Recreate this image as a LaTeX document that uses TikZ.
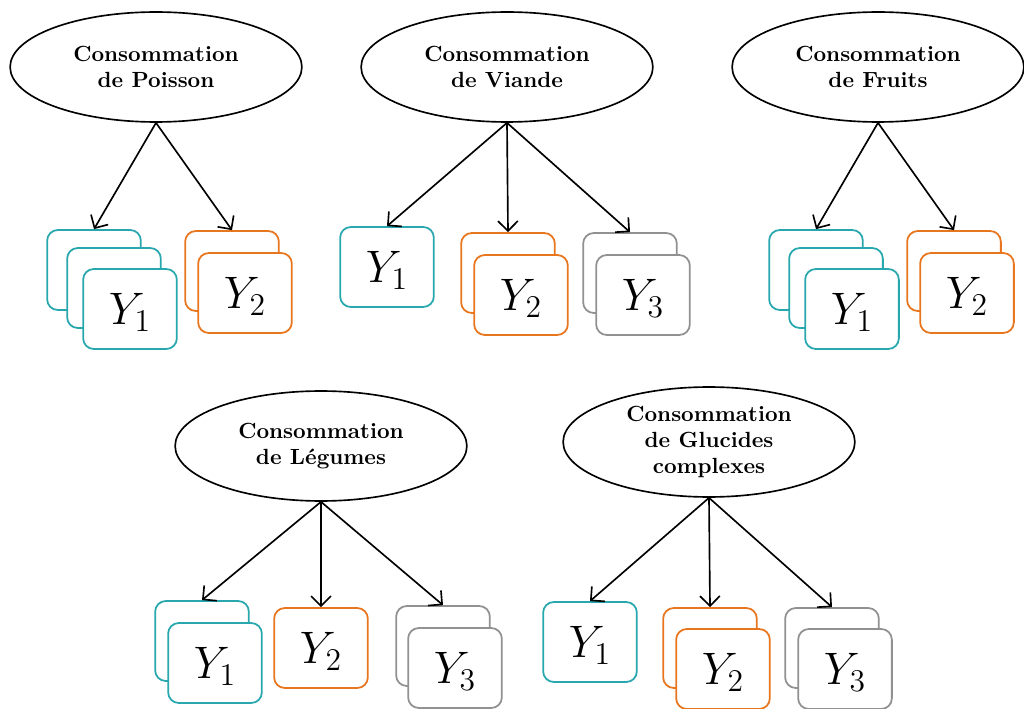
\documentclass[tikz,border=0pt]{standalone}
\usepackage{amsmath,amssymb}
\usepackage{fontspec}
\usepackage{xcolor}
\usepackage{tikz}
\usetikzlibrary{shapes.geometric,arrows.meta}

\definecolor{tealY}{RGB}{40,168,174}
\definecolor{orangeY}{RGB}{232,118,30}
\definecolor{grayY}{RGB}{145,145,145}

\begin{document}
\begin{tikzpicture}[x=0.016cm,y=-0.016cm,
  every text node part/.style={align=center},
  cons/.style={ellipse, draw=black, line width=0.75pt, minimum width=4.67cm, minimum height=1.76cm,
               inner sep=0pt, font=\bfseries},
  ybox/.style={rectangle, rounded corners=0.17cm, line width=0.8pt, fill=white,
               minimum width=1.5cm, minimum height=1.28cm, text depth=0pt,
               font=\fontsize{21}{24}\selectfont},
  tealbox/.style={ybox, draw=tealY},
  orangebox/.style={ybox, draw=orangeY},
  graybox/.style={ybox, draw=grayY},
  >={Straight Barb[length=4.5pt,width=9pt]}]
  \useasboundingbox (0,0) rectangle (1024,709);

  % Poisson
  \node[cons]      (p)   at (156,67)  {Consommation\\de Poisson};
  \node[tealbox]   (p1a) at (94,270)  {};
  \node[tealbox]   (p1b) at (114,288) {};
  \node[tealbox]   (p1)  at (130,309) {\(Y_1\)};
  \node[orangebox] (p2a) at (232,271) {};
  \node[orangebox] (p2)  at (245,293) {\(Y_2\)};

  % Viande
  \node[cons]      (v)   at (507,67)  {Consommation\\de Viande};
  \node[tealbox]   (v1)  at (387,267) {\(Y_1\)};
  \node[orangebox] (v2a) at (508,273) {};
  \node[orangebox] (v2)  at (521,295) {\(Y_2\)};
  \node[graybox]   (v3a) at (630,273) {};
  \node[graybox]   (v3)  at (643,295) {\(Y_3\)};

  % Fruits
  \node[cons]      (f)   at (878,67)  {Consommation\\de Fruits};
  \node[tealbox]   (f1a) at (816,270) {};
  \node[tealbox]   (f1b) at (836,288) {};
  \node[tealbox]   (f1)  at (852,309) {\(Y_1\)};
  \node[orangebox] (f2a) at (954,271) {};
  \node[orangebox] (f2)  at (967,293) {\(Y_2\)};

  % Legumes
  \node[cons]      (l)   at (321,446) {Consommation\\de Légumes};
  \node[tealbox]   (l1a) at (202,641) {};
  \node[tealbox]   (l1)  at (215,663) {\(Y_1\)};
  \node[orangebox] (l2)  at (321,648) {\(Y_2\)};
  \node[graybox]   (l3a) at (443,646) {};
  \node[graybox]   (l3)  at (455,668) {\(Y_3\)};

  % Glucides
  \node[cons]      (g)   at (709,442) {Consommation\\de Glucides\\complexes};
  \node[tealbox]   (g1)  at (590,642) {\(Y_1\)};
  \node[orangebox] (g2a) at (710,648) {};
  \node[orangebox] (g2)  at (723,669) {\(Y_2\)};
  \node[graybox]   (g3a) at (832,648) {};
  \node[graybox]   (g3)  at (845,669) {\(Y_3\)};

  \path[->, line width=0.75pt]
  (p.south) edge (p1a.north)
  (p.south) edge (p2a.north)
  (v.south) edge (v1.north)
  (v.south) edge (v2a.north)
  (v.south) edge (v3a.north)
  (f.south) edge (f1a.north)
  (f.south) edge (f2a.north)
  (l.south) edge (l1a.north)
  (l.south) edge (l2.north)
  (l.south) edge (l3a.north)
  (g.south) edge (g1.north)
  (g.south) edge (g2a.north)
  (g.south) edge (g3a.north);
\end{tikzpicture}
\end{document}
